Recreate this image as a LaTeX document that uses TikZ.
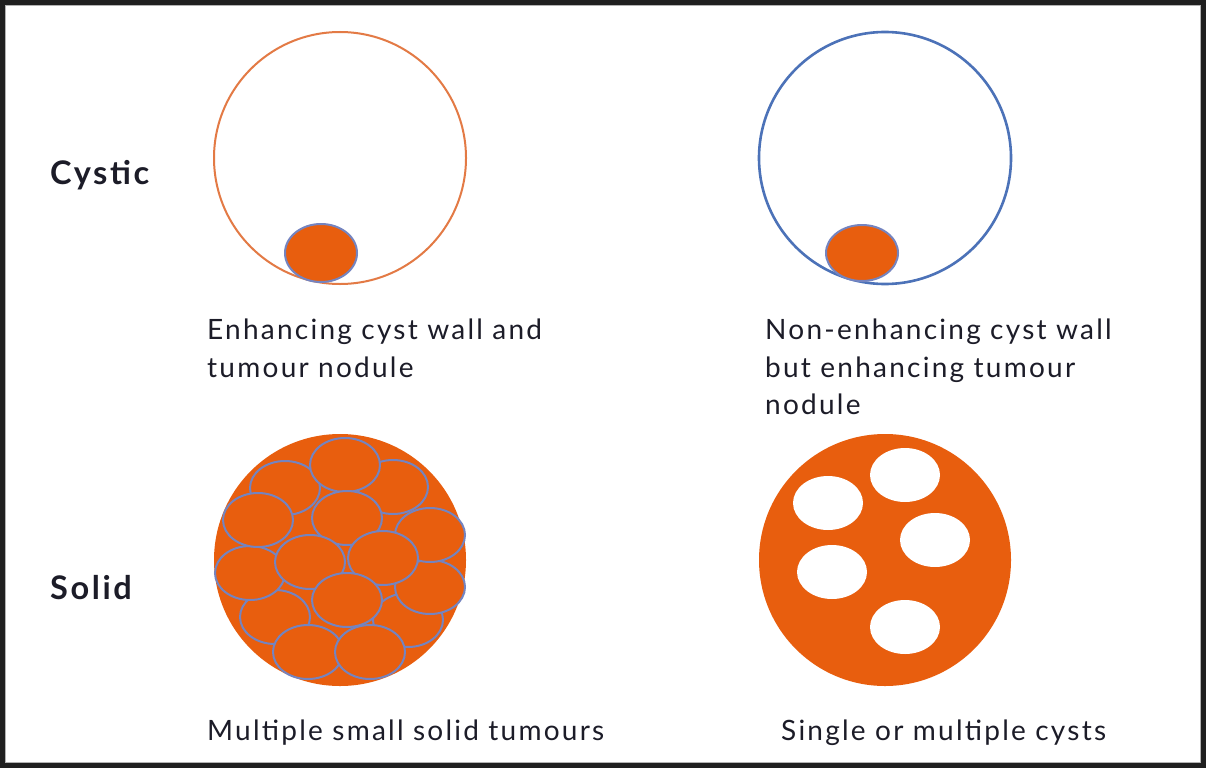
\documentclass[tikz,border=0pt]{standalone}
\usepackage{fontspec}
\setmainfont{Lato}[LetterSpace=8]
\usetikzlibrary{positioning}

\definecolor{tumour}{HTML}{E85E0E}
\definecolor{wallorange}{HTML}{E37A45}
\definecolor{wallblue}{HTML}{4C72B8}
\definecolor{lobeblue}{HTML}{7484C0}
\definecolor{inkdark}{HTML}{1C1C28}

\begin{document}
\begin{tikzpicture}[x=1pt,y=-1pt]

\def \r{126}
\def \rx{35}
\def \ry{27}

\def \heavy{2.6pt}
\def \light{2pt}

\tikzset{
  caption/.style={anchor=north west,inner sep=0pt,align=left,text=inkdark,
    font=\fontsize{28}{37.5}\selectfont},
  rowlabel/.style={anchor=west,inner sep=0pt,text=inkdark,
    font=\fontsize{32.5}{36}\selectfont\bfseries},
  nodule/.style={fill=tumour,draw=lobeblue,line width=\light},
  hole/.style={fill=white}
}

\useasboundingbox (0,0) rectangle (1206,768);
\fill[white] (0,0) rectangle (1206,768);

% cystic, enhancing wall
\draw[wallorange,line width=\light] (340,158) circle (\r);
\draw[nodule] (321,253) ellipse [x radius=36, y radius=29];

% cystic, non-enhancing wall
\draw[wallblue,line width=\heavy] (885,158) circle (\r);
\draw[nodule] (862,253) ellipse [x radius=36, y radius=28];

% solid, many small tumours
\fill[tumour] (340,560) circle (\r);
\foreach \x/\y in {275/617,408/620,250/573,430/587,285/488,393/487,
                   258/520,430/535,345/465,347/518,310/562,383/558,
                   347/600,308/652,370/652}
  \draw[nodule] (\x,\y) ellipse [x radius=\rx, y radius=\ry];

% solid with cysts
\fill[tumour] (885,560) circle (\r);
\foreach \x/\y in {905/475,828/503,935/540,832/572,905/627}
  \fill[hole] (\x,\y) ellipse [x radius=\rx, y radius=\ry];

% labels
\node[rowlabel] (cystic) at (50,175) {Cystic};
\node[rowlabel] (solid) at (50,588) {Solid};

\node[caption] (capA) at (207,319) {Enhancing cyst wall and\\tumour nodule};
\node[caption] (capB) at (765,319) {Non-enhancing cyst wall\\but enhancing tumour\\nodule};
\node[caption] (capC) at (207,720) {Multiple small solid tumours};
\node[caption] (capD) at (781,720) {Single or multiple cysts};

% frame
\draw[black!88,line width=5pt] (2.5,2.5) rectangle (1203.5,765.5);
\draw[black!30,line width=1pt] (5.5,5.5) rectangle (1200.5,762.5);

\end{tikzpicture}
\end{document}
